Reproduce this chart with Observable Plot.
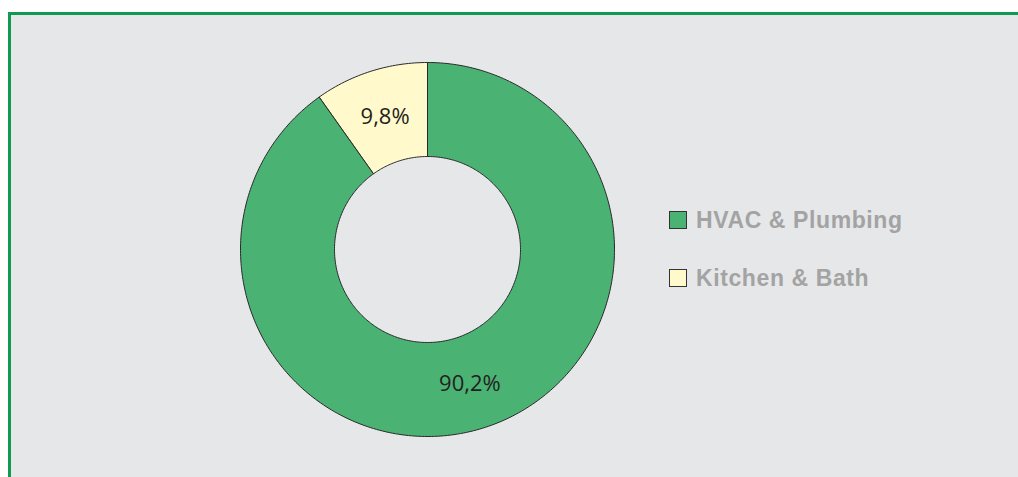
<!DOCTYPE html>
<html>
<head>
<meta charset="utf-8">
<script src="https://cdn.jsdelivr.net/npm/d3@7"></script>
<script src="https://cdn.jsdelivr.net/npm/@observablehq/plot@0.6"></script>
<style>
  html, body { margin: 0; padding: 0; background: #ffffff; }
  #wrap { position: relative; width: 1018px; height: 477px; overflow: hidden; }
  #panel { position: absolute; left: 8px; top: 12px; width: 1010px; height: 470px;
           background: #e6e7e9; border-top: 3px solid #0f9a4f; border-left: 3px solid #0f9a4f; box-sizing: border-box; }
  #chart { position: absolute; left: 0; top: 0; }
  .legend { position: absolute; left: 669px; font-family: "Liberation Sans", Arial, sans-serif;
            font-weight: bold; font-size: 23px; letter-spacing: 0.6px; color: #a3a3a3; white-space: nowrap; }
  .legend .item { position: absolute; left: 0; display: flex; align-items: center; }
  .legend .sw { width: 16px; height: 16px; border: 1px solid #333; margin-right: 9px; box-sizing: content-box; }
</style>
</head>
<body>
<div id="wrap">
  <div id="panel"></div>
  <div id="chart"></div>
  <div class="legend" id="legend"></div>
</div>
<script>
const categories = ["HVAC & Plumbing", "Kitchen & Bath"];
const values = [90.2, 9.8];
const labels = ["90,2%", "9,8%"];
const colors = ["#4ab373", "#fff9cc"];

const innerR = 93 / 187;
const total = d3.sum(values);
const slices = [];
let acc = 0;
categories.forEach((c, i) => {
  const a0 = acc / total * 2 * Math.PI;
  acc += values[i];
  const a1 = acc / total * 2 * Math.PI;
  const pts = [];
  const n = Math.max(8, Math.ceil((a1 - a0) / (Math.PI / 180)));
  for (let k = 0; k <= n; k++) {
    const a = a0 + (a1 - a0) * k / n;
    pts.push({x: Math.sin(a), y: Math.cos(a)});
  }
  for (let k = n; k >= 0; k--) {
    const a = a0 + (a1 - a0) * k / n;
    pts.push({x: innerR * Math.sin(a), y: innerR * Math.cos(a)});
  }
  const am = (a0 + a1) / 2, rm = (1 + innerR) / 2;
  slices.push({cat: c, color: colors[i], pts, label: labels[i], lx: rm * Math.sin(am), ly: rm * Math.cos(am)});
});

const plot = Plot.plot({
  width: 1018,
  height: 477,
  margin: 0,
  style: {background: "transparent", overflow: "visible"},
  x: {domain: [-1, 1], range: [240, 614], axis: null},
  y: {domain: [-1, 1], range: [436, 62], axis: null},
  marks: [
    ...slices.map(s => Plot.line(s.pts, {x: "x", y: "y", fill: s.color, stroke: "#2a2a2a", strokeWidth: 1, curve: "linear-closed"})),
    Plot.text(slices, {x: "lx", y: "ly", text: "label", fontSize: 22, fill: "#231f20", dy: 1,
      fontFamily: "'Open Sans', 'Noto Sans', sans-serif", textAnchor: "middle", lineAnchor: "middle"})
  ]
});
document.getElementById("chart").appendChild(plot);

const leg = document.getElementById("legend");
const tops = [211, 269];
categories.forEach((c, i) => {
  const it = document.createElement("div");
  it.className = "item";
  it.style.top = (tops[i] - 5) + "px";
  it.style.height = "28px";
  const sw = document.createElement("div");
  sw.className = "sw";
  sw.style.background = colors[i];
  it.appendChild(sw);
  const t = document.createElement("span");
  t.textContent = c;
  it.appendChild(t);
  leg.appendChild(it);
});
</script>
</body>
</html>
